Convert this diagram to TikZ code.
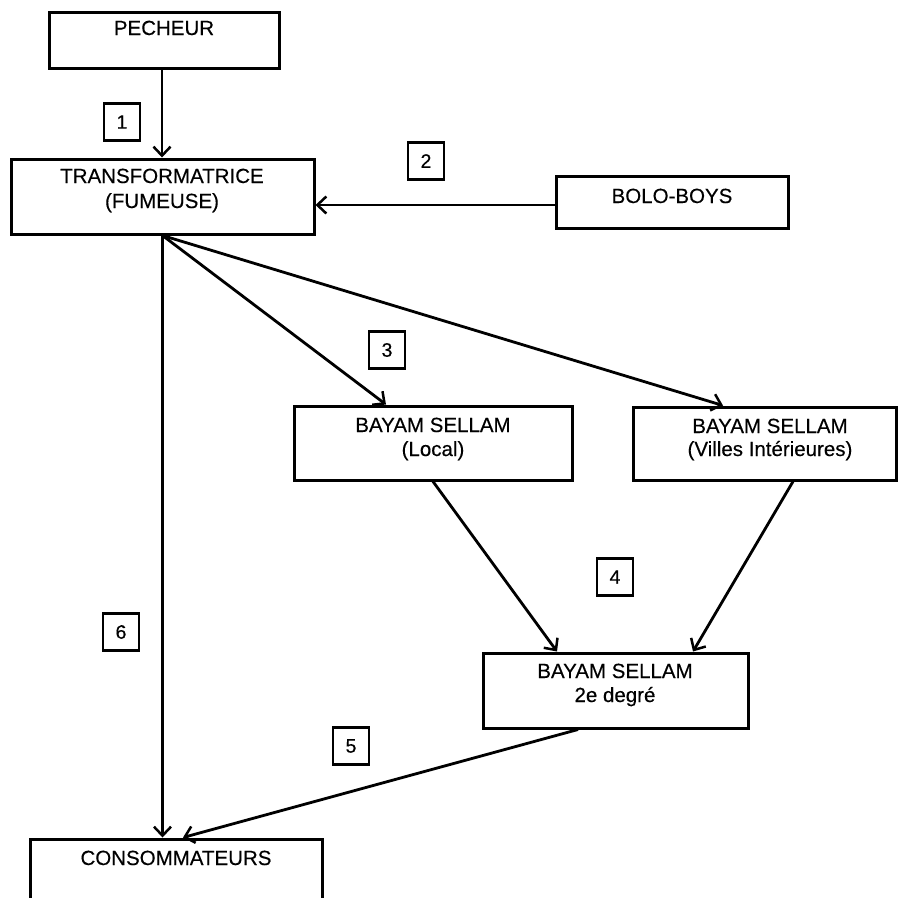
\documentclass[tikz,border=0pt]{standalone}
\usepackage{fontspec}
\setmainfont{Liberation Sans}[FakeBold=0.35]
\usetikzlibrary{arrows.meta}
\begin{document}
\begin{tikzpicture}[x=1pt,y=-1pt,
  box/.style={draw,line width=3pt,rectangle,inner sep=0pt},
  txt/.style={anchor=base,inner sep=0pt,font=\fontsize{20.5}{25}\selectfont},
  numbox/.style={draw,line width=2.6pt,minimum width=36pt,minimum height=37pt,inner sep=0pt,font=\fontsize{19.5}{22}\selectfont},
  flow/.style={line width=2.8pt,-{Straight Barb[length=9pt,width=17pt,line width=2.5pt]}}]
\useasboundingbox (0,0) rectangle (898,898);
% boxes
\node[box,minimum width=230pt,minimum height=56pt] (pech) at (164,40) {};
\node[box,minimum width=303pt,minimum height=75pt] (trans) at (162.5,196.5) {};
\node[box,minimum width=232pt,minimum height=52pt] (bolo) at (672,202) {};
\node[box,minimum width=278pt,minimum height=74pt] (local) at (433,443) {};
\node[box,minimum width=263pt,minimum height=73pt] (villes) at (764.5,443.5) {};
\node[box,minimum width=265pt,minimum height=75pt] (deg) at (615.5,690.5) {};
\node[box,minimum width=292pt,minimum height=66pt] (cons) at (176,872) {};
% texts
\node[txt] (pecht) at (164,35) {PECHEUR};
\node[txt] (transt1) at (162,183) {TRANSFORMATRICE};
\node[txt] (transt2) at (162,208) {(FUMEUSE)};
\node[txt] (bolot) at (672,203) {BOLO-BOYS};
\node[txt] (localt1) at (433,432) {BAYAM SELLAM};
\node[txt] (localt2) at (433,456) {(Local)};
\node[txt] (villest1) at (770,433) {BAYAM SELLAM};
\node[txt] (villest2) at (770,456) {(Villes Intérieures)};
\node[txt] (degt1) at (615,678) {BAYAM SELLAM};
\node[txt] (degt2) at (615,702) {2e degré};
\node[txt] (const) at (176,865) {CONSOMMATEURS};
% number labels
\node[numbox] (n1) at (122,122) {1};
\node[numbox] (n2) at (426,161) {2};
\node[numbox] (n3) at (387,350) {3};
\node[numbox] (n4) at (615,577) {4};
\node[numbox] (n5) at (351,746) {5};
\node[numbox] (n6) at (121,632) {6};
% connectors
\draw[flow] ([xshift=-2pt]pech.south) -- ([xshift=-2pt]pech.south |- trans.north);
\draw[flow] ([yshift=-3pt]bolo.west) -- ([yshift=-3pt]bolo.west -| trans.east);
\draw[flow] (trans.south) -- ([xshift=-47pt]local.north);
\draw[flow] (trans.south) -- ([xshift=-41.5pt]villes.north);
\draw[flow] (trans.south) -- (trans.south |- cons.north);
\draw[flow] (local.south) -- ([xshift=-58.5pt]deg.north);
\draw[flow] ([xshift=28.5pt]villes.south) -- ([xshift=77.5pt]deg.north);
\draw[flow] ([xshift=-37.5pt]deg.south) -- ([xshift=7pt]cons.north);
\end{tikzpicture}
\end{document}
